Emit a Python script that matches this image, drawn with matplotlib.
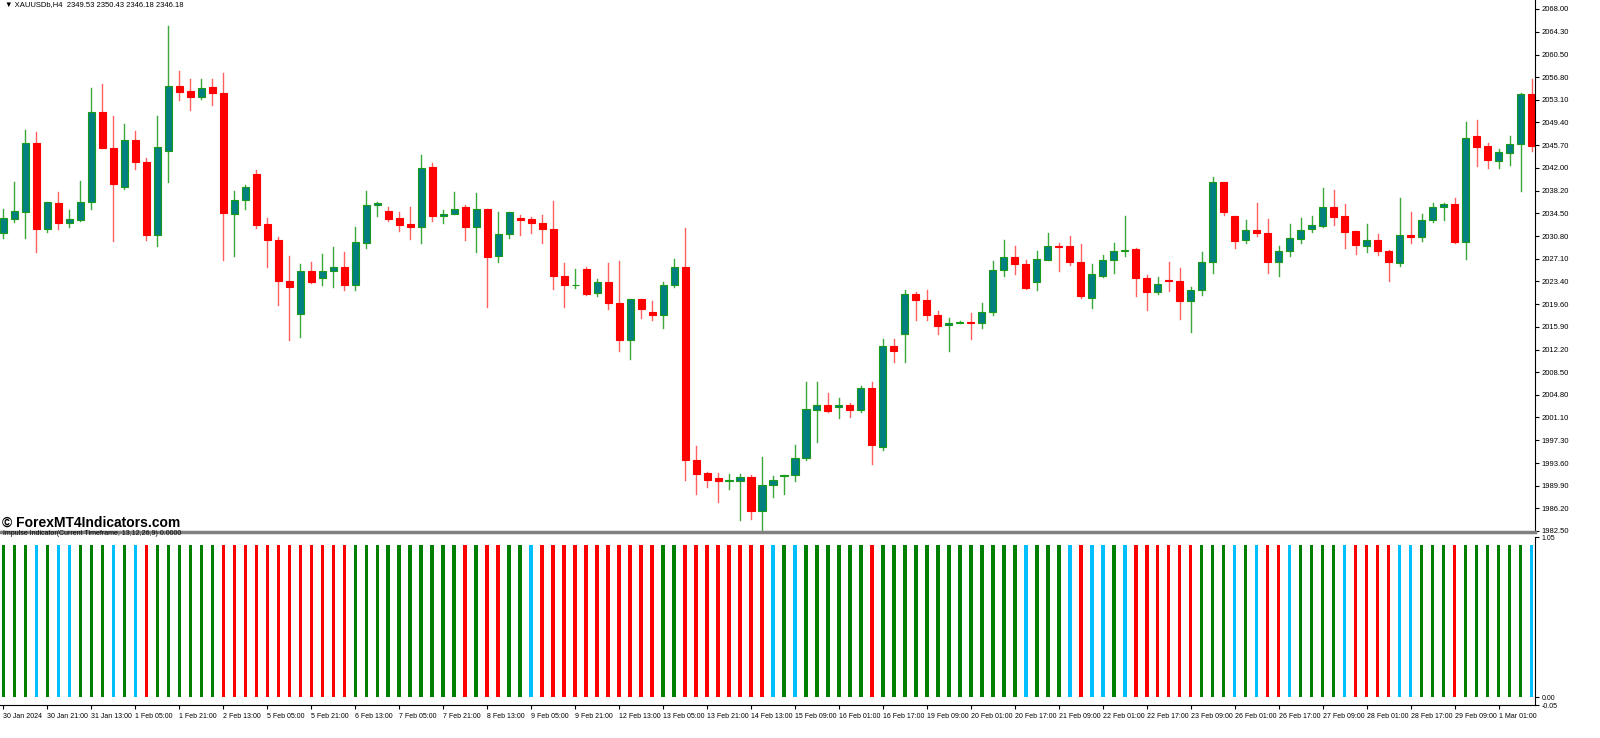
import matplotlib
matplotlib.use("Agg")
import matplotlib.pyplot as plt
from matplotlib.patches import Rectangle

plt.rcParams['font.family'] = ['Liberation Sans', 'DejaVu Sans']

# XAUUSDb H4 candles (open, close, high, low)
opens = [2031.25, 2033.65, 2034.8, 2046.0, 2031.9, 2036.2, 2032.9, 2033.5, 2036.3, 2051.1,
         2045.3, 2038.9, 2046.5, 2043.0, 2031.0, 2044.7, 2055.4, 2054.6, 2053.5, 2055.2,
         2054.3, 2034.4, 2036.7, 2041.0, 2032.7, 2030.2, 2023.4, 2018.1, 2025.0, 2024.0,
         2025.1, 2025.7, 2022.8, 2029.7, 2035.9, 2034.9, 2033.7, 2032.7, 2032.3, 2042.1,
         2034.0, 2034.4, 2035.5, 2032.3, 2035.3, 2027.5, 2031.2, 2033.7, 2033.6, 2033.0,
         2032.0, 2024.3, 2022.7, 2025.4, 2021.4, 2023.2, 2019.9, 2013.7, 2020.5, 2018.4,
         2017.8, 2022.7, 2025.7, 1994.1, 1991.9, 1991.1, 1990.6, 1990.6, 1991.3, 1985.7,
         1990.0, 1991.5, 1991.7, 1994.4, 2002.3, 2003.1, 2002.7, 2003.1, 2002.3, 2005.9,
         1996.3, 2012.7, 2014.8, 2021.3, 2020.3, 2017.8, 2016.2, 2016.6, 2016.7, 2016.5,
         2018.4, 2025.2, 2027.3, 2026.2, 2023.3, 2026.9, 2029.1, 2029.1, 2026.6, 2020.7,
         2024.2, 2026.8, 2028.4, 2028.6, 2024.0, 2021.7, 2023.5, 2023.5, 2020.1, 2022.0,
         2026.6, 2039.6, 2034.0, 2030.1, 2031.8, 2031.3, 2026.6, 2028.4, 2030.3, 2031.9,
         2032.4, 2035.6, 2034.1, 2031.6, 2029.2, 2030.1, 2028.4, 2026.4, 2030.9, 2030.6,
         2033.5, 2035.6, 2036.0, 2029.8, 2047.2, 2045.5, 2043.1, 2044.4, 2045.8, 2054.0]
closes = [2033.71, 2034.91, 2046.0, 2031.9, 2036.3, 2032.9, 2033.6, 2036.3, 2051.2, 2045.3,
          2039.3, 2046.5, 2043.0, 2031.0, 2045.4, 2055.4, 2054.4, 2053.5, 2055.1, 2054.3,
          2034.5, 2036.7, 2038.9, 2032.6, 2030.2, 2023.4, 2022.5, 2025.0, 2023.2, 2025.1,
          2025.7, 2022.8, 2029.8, 2035.9, 2036.2, 2033.6, 2032.6, 2032.3, 2041.9, 2034.0,
          2034.4, 2035.3, 2032.3, 2035.3, 2027.3, 2031.2, 2034.8, 2033.5, 2033.0, 2032.0,
          2024.3, 2022.8, 2022.8, 2021.3, 2023.2, 2019.9, 2013.8, 2020.5, 2018.9, 2017.8,
          2022.7, 2025.7, 1994.1, 1991.8, 1990.9, 1990.6, 1990.8, 1991.3, 1985.7, 1990.0,
          1990.9, 1991.7, 1994.4, 2002.4, 2003.1, 2002.2, 2003.1, 2002.3, 2005.9, 1996.5,
          2012.7, 2012.0, 2021.3, 2020.3, 2017.8, 2016.1, 2016.5, 2016.7, 2016.5, 2018.3,
          2025.2, 2027.3, 2026.2, 2022.3, 2027.0, 2029.1, 2029.0, 2026.5, 2021.0, 2024.5,
          2026.9, 2028.4, 2028.5, 2024.0, 2021.7, 2022.9, 2023.4, 2020.1, 2022.0, 2026.6,
          2039.6, 2034.8, 2030.0, 2031.8, 2031.3, 2026.6, 2028.4, 2030.4, 2031.8, 2032.6,
          2035.6, 2033.9, 2031.4, 2029.4, 2030.1, 2028.4, 2026.5, 2030.9, 2030.6, 2033.5,
          2035.6, 2036.0, 2029.8, 2046.9, 2045.4, 2043.2, 2044.6, 2045.8, 2054.0, 2045.6]
highs = [2035.18, 2039.7, 2048.2, 2047.8, 2036.4, 2038.0, 2035.1, 2039.8, 2055.0, 2055.7,
         2050.4, 2049.2, 2048.0, 2043.6, 2050.4, 2065.2, 2057.9, 2056.5, 2056.6, 2056.6,
         2057.5, 2038.1, 2039.2, 2041.6, 2033.7, 2030.7, 2027.5, 2026.2, 2026.6, 2027.8,
         2029.0, 2028.1, 2032.2, 2038.2, 2036.3, 2035.5, 2034.7, 2035.5, 2044.0, 2042.7,
         2035.1, 2038.0, 2035.9, 2037.8, 2035.3, 2034.7, 2034.8, 2034.3, 2033.9, 2034.3,
         2036.5, 2026.3, 2025.4, 2025.8, 2023.7, 2026.3, 2026.7, 2020.5, 2020.5, 2020.2,
         2023.2, 2027.0, 2032.1, 1996.4, 1992.2, 1992.0, 1991.8, 1991.8, 1991.6, 1994.6,
         1991.4, 1991.7, 1996.6, 2006.9, 2006.9, 2005.0, 2004.2, 2003.5, 2006.2, 2006.9,
         2013.9, 2014.0, 2021.9, 2021.6, 2022.0, 2018.5, 2017.3, 2016.9, 2018.2, 2019.8,
         2026.7, 2030.1, 2029.2, 2026.9, 2028.3, 2031.3, 2029.7, 2030.8, 2029.5, 2026.2,
         2027.7, 2029.7, 2034.1, 2028.9, 2024.4, 2024.1, 2026.5, 2025.6, 2022.4, 2028.2,
         2040.4, 2039.6, 2034.1, 2033.4, 2036.2, 2033.6, 2029.2, 2032.7, 2033.7, 2034.1,
         2038.6, 2038.3, 2036.1, 2031.6, 2032.8, 2031.2, 2028.5, 2037.1, 2034.8, 2034.4,
         2036.2, 2036.2, 2037.0, 2049.4, 2049.8, 2046.0, 2045.0, 2047.2, 2054.2, 2056.6]
lows = [2030.43, 2033.16, 2030.5, 2028.1, 2031.5, 2031.9, 2032.2, 2033.2, 2035.3, 2045.2,
        2030.0, 2038.5, 2041.7, 2030.1, 2029.1, 2039.6, 2053.1, 2051.4, 2053.2, 2052.3,
        2026.8, 2027.5, 2035.3, 2032.1, 2025.8, 2019.5, 2013.7, 2014.3, 2023.1, 2022.7,
        2022.4, 2021.9, 2022.0, 2028.8, 2034.1, 2033.3, 2031.7, 2030.3, 2029.6, 2033.2,
        2032.9, 2034.4, 2030.2, 2028.1, 2019.1, 2026.6, 2030.5, 2031.0, 2031.3, 2029.7,
        2022.1, 2019.2, 2022.3, 2021.2, 2020.9, 2018.9, 2012.0, 2010.6, 2017.4, 2017.1,
        2015.8, 2022.5, 1990.9, 1988.5, 1989.6, 1987.2, 1989.3, 1984.3, 1984.4, 1982.7,
        1988.0, 1988.5, 1990.6, 1994.1, 1997.0, 2002.0, 2000.9, 2001.2, 2002.0, 1993.5,
        1995.8, 2010.1, 2010.1, 2017.1, 2017.0, 2014.7, 2012.0, 2016.5, 2013.9, 2015.8,
        2017.8, 2024.3, 2024.6, 2022.1, 2021.9, 2026.8, 2025.0, 2026.1, 2020.6, 2019.0,
        2024.1, 2024.7, 2027.6, 2020.9, 2018.7, 2021.3, 2021.8, 2017.2, 2015.1, 2021.2,
        2024.8, 2034.2, 2028.9, 2029.7, 2030.8, 2024.7, 2024.2, 2027.6, 2029.7, 2031.4,
        2032.2, 2032.6, 2028.8, 2027.8, 2028.2, 2027.7, 2023.5, 2025.9, 2029.6, 2030.0,
        2033.1, 2033.4, 2029.7, 2027.0, 2042.3, 2041.9, 2041.9, 2042.5, 2038.2, 2044.7]

# Impulse indicator state per bar: G = up, R = down, B = neutral
impulse = ("GGGBGBBGGGBGBRGGGGGGRRRRRRRRRRRRGGGGGGGGGGRGRRGGBRRRRRRRRRRRGGRRRRRRRRBG"
           "BGGGGGGRGGGGGGGGGGGGGBGGGBRBBGBRRRRRRGGGBGBRRBGGGGBRRRRBBGGGRGGGGGGB")

price_ticks = [2068.00, 2064.30, 2060.50, 2056.80, 2053.10, 2049.40, 2045.70, 2042.00,
               2038.20, 2034.50, 2030.80, 2027.10, 2023.40, 2019.60, 2015.90, 2012.20,
               2008.50, 2004.80, 2001.10, 1997.30, 1993.60, 1989.90, 1986.20, 1982.50]

time_labels = ["30 Jan 2024", "30 Jan 21:00", "31 Jan 13:00", "1 Feb 05:00", "1 Feb 21:00",
               "2 Feb 13:00", "5 Feb 05:00", "5 Feb 21:00", "6 Feb 13:00", "7 Feb 05:00",
               "7 Feb 21:00", "8 Feb 13:00", "9 Feb 05:00", "9 Feb 21:00", "12 Feb 13:00",
               "13 Feb 05:00", "13 Feb 21:00", "14 Feb 13:00", "15 Feb 09:00", "16 Feb 01:00",
               "16 Feb 17:00", "19 Feb 09:00", "20 Feb 01:00", "20 Feb 17:00", "21 Feb 09:00",
               "22 Feb 01:00", "22 Feb 17:00", "23 Feb 09:00", "26 Feb 01:00", "26 Feb 17:00",
               "27 Feb 09:00", "28 Feb 01:00", "28 Feb 17:00", "29 Feb 09:00", "1 Mar 01:00"]

imp_colors = {"G": "#008000", "R": "#ff0000", "B": "#00bfff"}

W, H = 1600, 738
fig = plt.figure(figsize=(W / 100, H / 100), dpi=100)
fig.patch.set_facecolor("white")
ax_right = 1535 / W

ax = fig.add_axes([0, (H - 532) / H, ax_right, 532 / H])
ax2 = fig.add_axes([0, (H - 705) / H, ax_right, (705 - 537) / H])

n = len(opens)
xlim = (-0.3, 139.3)
for i in range(n):
    o, c, hi, lo = opens[i], closes[i], highs[i], lows[i]
    up = c >= o
    wick = "#3aa83a" if up else "#ff6060"
    ax.plot([i, i], [lo, hi], color=wick, lw=1, zorder=1)
    body = max(abs(c - o), 0.15)
    ax.add_patch(Rectangle((i - 0.32, min(o, c)), 0.64, body,
                           facecolor="#008080" if up else "#ff0000",
                           edgecolor="#1a9a1a" if up else "#ff0000", lw=0.8, zorder=2))

ax.set_xlim(*xlim)
ax.set_ylim(1982.3, 2069.47)
ax.yaxis.tick_right()
ax.set_yticks(price_ticks)
ax.set_yticklabels([f"{p:.2f}" for p in price_ticks], fontsize=5.5)
ax.tick_params(axis="y", length=3, pad=2)
ax.set_xticks([])
for s in ["top", "left"]:
    ax.spines[s].set_visible(False)
ax.spines["bottom"].set_color("#808080")
ax.spines["bottom"].set_linewidth(2.5)
ax.text(0.003, 0.998, "\u25bc XAUUSDb,H4  2349.53 2350.43 2346.18 2346.18",
        transform=ax.transAxes, fontsize=5.5, va="top", ha="left")
ax.text(0.001, 0.004, "\u00a9 ForexMT4Indicators.com", transform=ax.transAxes,
        fontsize=10, fontweight="bold", va="bottom", ha="left")

ax2.bar(range(n), [1] * n, width=0.3, bottom=0,
        color=[imp_colors[k] for k in impulse[:n]])
ax2.set_xlim(*xlim)
ax2.set_ylim(-0.01, 1.05)
ax2.yaxis.tick_right()
ax2.set_yticks([1.05, 0.0, -0.05])
ax2.set_yticklabels(["1.05", "0.00", "-0.05"], fontsize=5)
ax2.tick_params(axis="y", length=3, pad=2)
ax2.set_xticks(range(0, n, 4))
ax2.set_xticklabels(time_labels, fontsize=5, ha="left")
ax2.tick_params(axis="x", length=3, pad=3)
ax2.spines["top"].set_visible(False)
ax2.spines["left"].set_visible(False)
ax2.text(0.002, 1.0, "Impulse Indicator(Current Timeframe, 13,12,26,9) 0.0000",
         transform=ax2.transAxes, fontsize=5, va="bottom", ha="left")

fig.savefig("out.png", dpi=100)
